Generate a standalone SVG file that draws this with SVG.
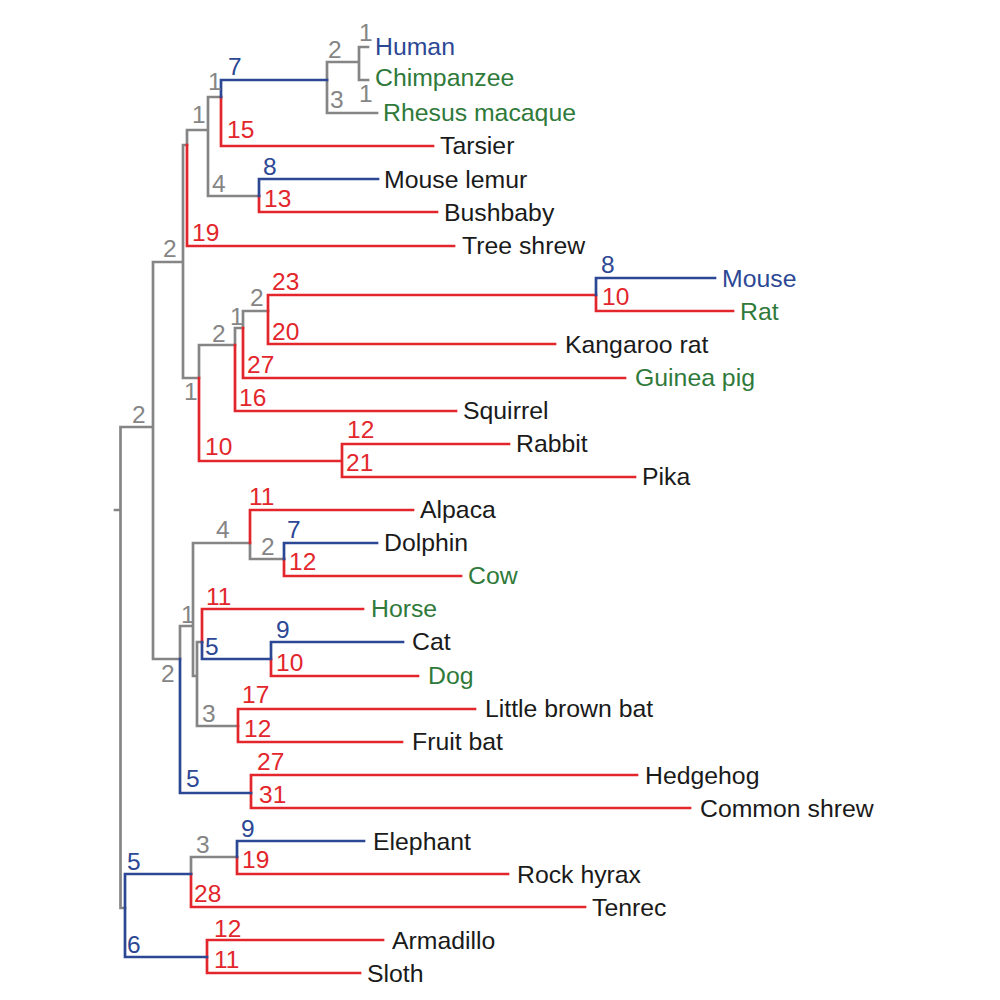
<svg xmlns="http://www.w3.org/2000/svg" width="1000" height="1000" viewBox="0 0 1000 1000">
<style>
.g{stroke:#858585}.r{stroke:#e2262c}.b{stroke:#2c4895}
#edges path{fill:none;stroke-width:2.7;stroke-linecap:square}
text{font-family:"Liberation Sans",Arial,Helvetica,sans-serif}
.leaf text{font-size:24.8px;fill:#1a1a1a}
.leaf text.bl{fill:#2c4895}.leaf text.gr{fill:#2f7a3a}
.lab{font-size:24.5px}
.lg{fill:#858585}.lr{fill:#e2262c}.lb{fill:#2c4895}
</style>
<rect width="1000" height="1000" fill="#fff"/>
<g id="edges">
<path class="g" d="M115,510H120.5M120.5,427V908M120.5,427H153M153,262V659M153,262H183M183,145V378M183,145H187M187,130V145M187,130H208M208,97V196M208,97H221M327,62V113M327,62H359M359,47V80M359,47H368M359,80H368M327,113H377M208,196H259M183,378H199M199,345V378M199,345H235M235,328V345M235,328H243M243,311V328M243,311H268M153,659H180M180,626V659M180,626H193M193,543V676M193,543H250M250,543V559M250,559H284M193,676H197M197,642V726M197,642H202M197,726H238M120.5,908H125M191,857V874M191,857H237"/>
<path class="r" d="M187,145V246M221,97V146M221,146H433M259,196V212M259,212H437M187,246H454M199,378V461M235,345V411M243,328V378M268,295V344M268,295H596M268,344H555M596,295V311M596,311H733M243,378H625M235,411H456M199,461H342M342,444V477M342,444H509M342,477H635M250,510V543M250,510H413M284,559V576M284,576H461M202,609V642M202,609H363M271,659V676M271,676H418M238,709V742M238,709H475M238,742H402M251,775V808M251,775H637M251,808H690M191,874V907M237,857V874M237,874H508M191,907H585M207,940V973M207,940H383M207,973H360"/>
<path class="b" d="M221,80V97M221,80H327M259,179V196M259,179H378M596,278V295M596,278H715M284,543V559M284,543H377M202,642V659M202,659H271M271,642V659M271,642H403M180,659V793M180,793H251M125,874V957M125,874H191M237,841V857M237,841H364M125,957H207"/>
</g>
<g id="branch-labels" class="lab">
<text class="lg" x="132" y="423">2</text>
<text class="lg" x="163" y="257">2</text>
<text class="lg" x="192" y="123">1</text>
<text class="lg" x="208" y="90">1</text>
<text class="lb" x="228" y="75">7</text>
<text class="lg" x="328" y="58">2</text>
<text class="lg" x="359" y="41">1</text>
<text class="lg" x="359" y="102">1</text>
<text class="lg" x="330" y="108">3</text>
<text class="lr" x="227" y="138">15</text>
<text class="lg" x="212" y="192">4</text>
<text class="lb" x="263" y="175">8</text>
<text class="lr" x="264" y="207">13</text>
<text class="lr" x="192" y="241">19</text>
<text class="lg" x="184" y="400">1</text>
<text class="lg" x="212" y="342">2</text>
<text class="lg" x="230" y="325">1</text>
<text class="lg" x="250" y="306">2</text>
<text class="lr" x="272" y="290">23</text>
<text class="lr" x="272" y="340">20</text>
<text class="lb" x="601" y="273">8</text>
<text class="lr" x="602" y="305">10</text>
<text class="lr" x="247" y="373">27</text>
<text class="lr" x="239" y="406">16</text>
<text class="lr" x="205" y="455">10</text>
<text class="lr" x="347" y="438">12</text>
<text class="lr" x="346" y="471">21</text>
<text class="lg" x="161" y="682">2</text>
<text class="lg" x="181" y="623">1</text>
<text class="lg" x="216" y="538">4</text>
<text class="lr" x="249" y="505">11</text>
<text class="lg" x="261" y="555">2</text>
<text class="lb" x="287" y="538">7</text>
<text class="lr" x="289" y="570">12</text>
<text class="lr" x="206" y="605">11</text>
<text class="lb" x="205" y="655">5</text>
<text class="lb" x="276" y="638">9</text>
<text class="lr" x="276" y="671">10</text>
<text class="lg" x="202" y="722">3</text>
<text class="lr" x="242" y="703">17</text>
<text class="lr" x="244" y="737">12</text>
<text class="lb" x="186" y="787">5</text>
<text class="lr" x="257" y="770">27</text>
<text class="lr" x="259" y="803">31</text>
<text class="lb" x="127" y="870">5</text>
<text class="lg" x="196" y="853">3</text>
<text class="lb" x="241" y="837">9</text>
<text class="lr" x="242" y="868">19</text>
<text class="lr" x="194" y="902">28</text>
<text class="lb" x="127" y="953">6</text>
<text class="lr" x="214" y="937">12</text>
<text class="lr" x="214" y="968">11</text>
</g>
<g id="leaves" class="leaf">
<g id="human"><text class="bl" x="375" y="55">Human</text></g>
<g id="chimpanzee"><text class="gr" x="375" y="86">Chimpanzee</text></g>
<g id="rhesus"><text class="gr" x="383" y="121">Rhesus macaque</text></g>
<g id="tarsier"><text x="440" y="154">Tarsier</text></g>
<g id="mouse-lemur"><text x="384" y="188">Mouse lemur</text></g>
<g id="bushbaby"><text x="444" y="221">Bushbaby</text></g>
<g id="tree-shrew"><text x="462" y="254">Tree shrew</text></g>
<g id="mouse"><text class="bl" x="722" y="287">Mouse</text></g>
<g id="rat"><text class="gr" x="740" y="320">Rat</text></g>
<g id="kangaroo-rat"><text x="565" y="353">Kangaroo rat</text></g>
<g id="guinea-pig"><text class="gr" x="635" y="386">Guinea pig</text></g>
<g id="squirrel"><text x="463" y="419">Squirrel</text></g>
<g id="rabbit"><text x="516" y="452">Rabbit</text></g>
<g id="pika"><text x="642" y="485">Pika</text></g>
<g id="alpaca"><text x="420" y="518">Alpaca</text></g>
<g id="dolphin"><text x="384" y="551">Dolphin</text></g>
<g id="cow"><text class="gr" x="468" y="584">Cow</text></g>
<g id="horse"><text class="gr" x="371" y="617">Horse</text></g>
<g id="cat"><text x="412" y="650">Cat</text></g>
<g id="dog"><text class="gr" x="428" y="684">Dog</text></g>
<g id="little-brown-bat"><text x="485" y="717">Little brown bat</text></g>
<g id="fruit-bat"><text x="412" y="750">Fruit bat</text></g>
<g id="hedgehog"><text x="645" y="784">Hedgehog</text></g>
<g id="common-shrew"><text x="700" y="817">Common shrew</text></g>
<g id="elephant"><text x="373" y="850">Elephant</text></g>
<g id="rock-hyrax"><text x="517" y="883">Rock hyrax</text></g>
<g id="tenrec"><text x="592" y="916">Tenrec</text></g>
<g id="armadillo"><text x="392" y="949">Armadillo</text></g>
<g id="sloth"><text x="367" y="982">Sloth</text></g>
</g>
</svg>
